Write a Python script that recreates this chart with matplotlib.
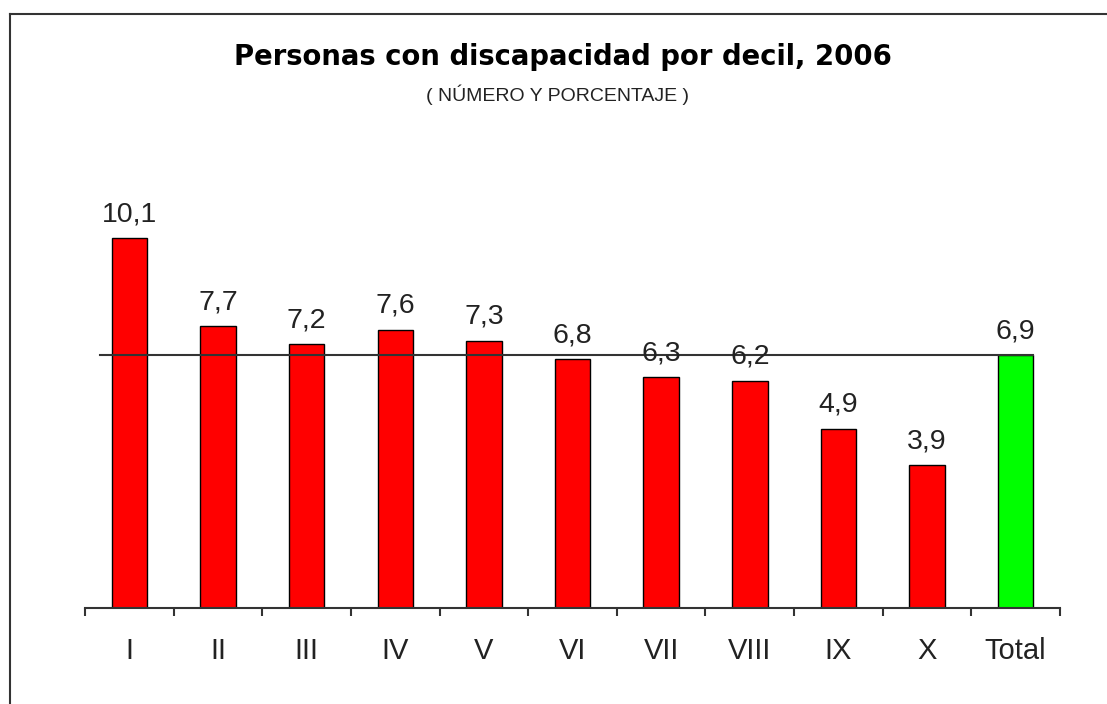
import matplotlib
matplotlib.use("Agg")
import matplotlib.pyplot as plt
from matplotlib.lines import Line2D

categories = ["I", "II", "III", "IV", "V", "VI", "VII", "VIII", "IX", "X", "Total"]
values = [10.1, 7.7, 7.2, 7.6, 7.3, 6.8, 6.3, 6.2, 4.9, 3.9, 6.9]
value_labels = ["10,1", "7,7", "7,2", "7,6", "7,3", "6,8", "6,3", "6,2", "4,9", "3,9", "6,9"]
bar_colors = ["#FF0000"] * 10 + ["#00FF00"]
reference_value = 6.9

title = "Personas con discapacidad por decil, 2006"
subtitle = "( NÚMERO Y PORCENTAJE )"

W, H = 1107, 704
fig = plt.figure(figsize=(W / 100, H / 100), dpi=100)
fig.patch.set_facecolor("white")

narrow = ["Liberation Sans Narrow", "Liberation Sans", "DejaVu Sans"]
txt_color = "#222222"

ax = fig.add_axes([85 / W, 96 / H, 975 / W, 402.6 / H])
x = list(range(len(categories)))
ax.bar(x, values, width=0.4, color=bar_colors, edgecolor="black", linewidth=1.0, zorder=2)
ax.plot([-0.33, 10.2], [reference_value, reference_value], color="#333333", lw=1.5, zorder=3)

for xi, v, lab in zip(x, values, value_labels):
    ax.annotate(lab, (xi, v), xytext=(0, 8), textcoords="offset points",
                ha="center", va="bottom", fontsize=20.5, family=narrow, color=txt_color)

ax.set_xlim(-0.5, 10.5)
ax.set_ylim(0, 11)
ax.set_xticks(x)
ax.set_xticklabels(categories, fontsize=21, family=narrow, color=txt_color)
ax.set_xticks([i - 0.5 for i in range(len(categories) + 1)], minor=True)
ax.tick_params(axis="x", which="major", length=0, pad=21)
ax.tick_params(axis="x", which="minor", length=6, width=1.5, color="#333333", direction="out")
ax.set_yticks([])
for s in ["top", "right", "left"]:
    ax.spines[s].set_visible(False)
ax.spines["bottom"].set_color("#333333")
ax.spines["bottom"].set_linewidth(1.5)
ax.set_facecolor("none")

fig.text(563 / W, 1 - 57 / H, title, ha="center", va="center", fontsize=19.8,
         fontweight="bold", family=["DejaVu Sans"], color="black")
fig.text(557 / W, 1 - 95 / H, subtitle, ha="center", va="center", fontsize=14,
         family=["Liberation Sans", "DejaVu Sans"], color=txt_color)

# outer frame (left and top edges visible)
fig.add_artist(Line2D([9.5 / W, 9.5 / W], [0, 1 - 14 / H], color="#333333", lw=1.5,
                      transform=fig.transFigure))
fig.add_artist(Line2D([9.5 / W, 1.0], [1 - 14 / H, 1 - 14 / H], color="#333333", lw=1.5,
                      transform=fig.transFigure))

fig.savefig("out.png", dpi=100, facecolor="white")
